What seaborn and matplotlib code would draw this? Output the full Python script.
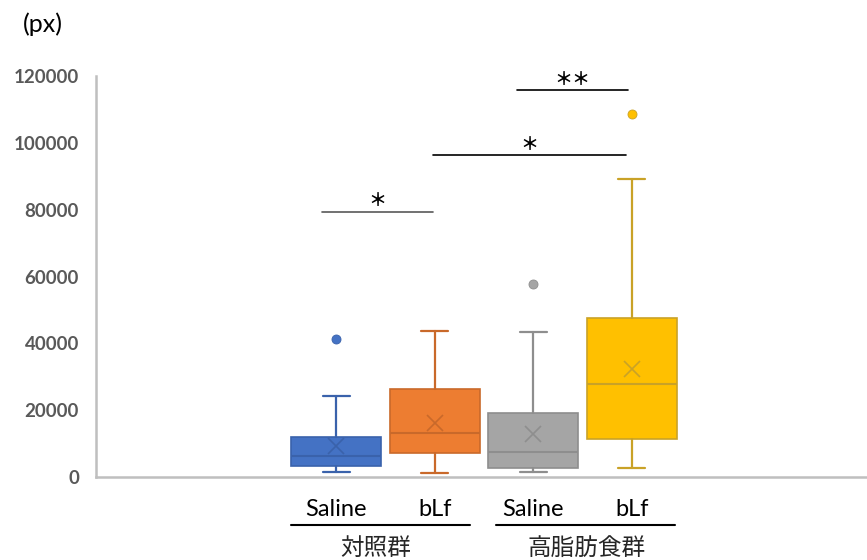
import numpy as np
import matplotlib
matplotlib.use("Agg")
import matplotlib.pyplot as plt
import matplotlib.transforms as mtransforms
import seaborn as sns

# box stats (px area)
groups = ["対照群", "高脂肪食群"]
treatments = ["Saline", "bLf"]
whislo = [1400, 1100, 1500, 2600]
q1 = [3300, 7100, 2600, 11300]
med = [6400, 13300, 7400, 27800]
q3 = [12100, 26300, 19200, 47700]
whishi = [24200, 43800, 43300, 89100]
means = [9400, 16300, 12900, 32500]
fliers = [[41200], [], [57800], [108800]]

face_colors = ["#4472C4", "#ED7D31", "#A5A5A5", "#FFC000"]
edge_colors = ["#3A62AB", "#C9692A", "#8E8E8E", "#C9A227"]

sns.set_theme(style="white")
plt.rcParams['font.family'] = ['Lato', 'Noto Sans CJK JP', 'DejaVu Sans']

fig = plt.figure(figsize=(8.67, 5.6), dpi=100)
ax = fig.add_axes([0.1104, 0.148, 0.8896, 0.716])

# 4 category slots (first and last empty), 2 hue boxes per group
positions = []
for gi in range(len(groups)):
    for ti in range(len(treatments)):
        positions.append(gi + 1 + (ti - 0.5) * 0.5)

for i in range(4):
    stats = [dict(whislo=whislo[i], q1=q1[i], med=med[i], q3=q3[i],
                  whishi=whishi[i], mean=means[i], fliers=fliers[i])]
    ec = edge_colors[i]
    ax.bxp(stats, positions=[positions[i]], widths=0.457, capwidths=0.137,
           showmeans=True, patch_artist=True,
           boxprops=dict(facecolor=face_colors[i], edgecolor=ec, linewidth=1.2),
           medianprops=dict(color=ec, linewidth=1.5),
           whiskerprops=dict(color=ec, linewidth=1.6),
           capprops=dict(color=ec, linewidth=1.6),
           meanprops=dict(marker="x", markeredgecolor=ec, markersize=11,
                          markeredgewidth=1.2),
           flierprops=dict(marker="o", markerfacecolor=face_colors[i],
                           markeredgecolor=ec, markersize=6.5, markeredgewidth=0.6))

ax.set_xlim(-0.471, 3.444)
ax.set_ylim(0, 120000)
ax.set_yticks(np.arange(0, 120001, 20000))
ax.set_yticklabels([str(v) for v in range(0, 120001, 20000)],
                   fontweight="bold", color="#595959", fontsize=13.5)
ax.tick_params(axis="y", length=0, pad=12)

ax.set_xticks(positions)
ax.set_xticklabels(treatments * 2, fontsize=17, color="black")
ax.tick_params(axis="x", length=0, pad=16)

for s in ["top", "right"]:
    ax.spines[s].set_visible(False)
for s in ["left", "bottom"]:
    ax.spines[s].set_color("#BFBFBF")
    ax.spines[s].set_linewidth(1.8)

trans = mtransforms.blended_transform_factory(ax.transData, ax.transAxes)
underline_x = [(0.52, 1.43), (1.56, 2.47)]
label_x = [0.95, 2.018]
for gi, g in enumerate(groups):
    ax.plot(underline_x[gi], [-0.1197, -0.1197], color="black",
            linewidth=1.5, transform=trans, clip_on=False)
    ax.text(label_x[gi], -0.177, g, transform=trans, ha="center", va="center",
            fontsize=17, color="#262626", family=['Noto Sans CJK JP', 'DejaVu Sans'])

# significance brackets
sig = [(0.676, 1.24, 79400, "＊", "#595959"),
       (1.24, 2.223, 96400, "＊", "black"),
       (1.668, 2.233, 115800, "＊＊", "black")]
for x0, x1, yv, lab, c in sig:
    ax.plot([x0, x1], [yv, yv], color=c, linewidth=1.2, clip_on=False)
    ax.text((x0 + x1) / 2, yv + 400, lab, ha="center", va="bottom", fontsize=13,
            fontweight="bold", color="black",
            family=['Noto Sans CJK JP', 'DejaVu Sans'])

fig.text(23 / 867, 1 - 24 / 560, "(px)", ha="left", va="center", fontsize=18, color="black")

fig.savefig("out.png", dpi=100)
